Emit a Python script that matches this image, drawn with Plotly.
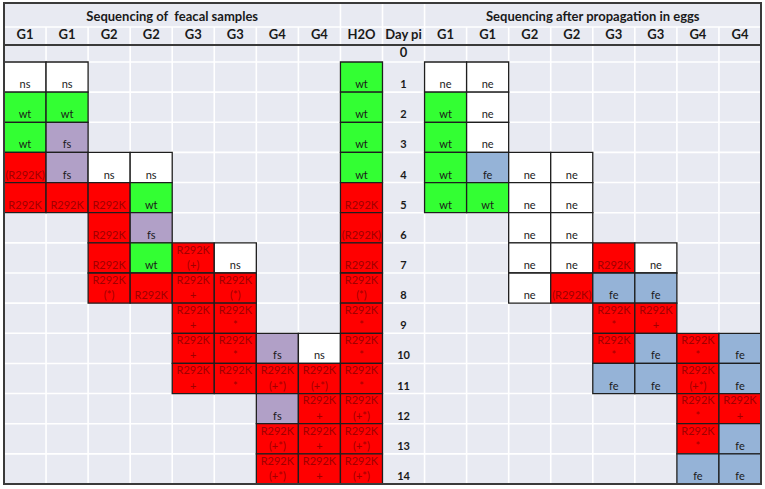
import plotly.graph_objects as go

E = ""
# ---- data ----
day_labels = ["0", "1", "2", "3", "4", "5", "6", "7", "8", "9", "10", "11", "12", "13", "14"]
fecal_headers = ["G1", "G1", "G2", "G2", "G3", "G3", "G4", "G4", "H2O"]
egg_headers = ["G1", "G1", "G2", "G2", "G3", "G3", "G4", "G4"]
fecal_title = "Sequencing of  feacal samples"
egg_title = "Sequencing after propagation in eggs"
day_header = "Day pi"

fecal_g1a = [E, "ns", "wt", "wt", "(R292K)", "R292K", E, E, E, E, E, E, E, E, E]
fecal_g1b = [E, "ns", "wt", "fs", "fs", "R292K", E, E, E, E, E, E, E, E, E]
fecal_g2a = [E, E, E, E, "ns", "R292K", "R292K", "R292K", "R292K|(*)", E, E, E, E, E, E]
fecal_g2b = [E, E, E, E, "ns", "wt", "fs", "wt", "R292K", E, E, E, E, E, E]
fecal_g3a = [E, E, E, E, E, E, E, "R292K|(+)", "R292K|+", "R292K|+", "R292K|+", "R292K|+", E, E, E]
fecal_g3b = [E, E, E, E, E, E, E, "ns", "R292K|(*)", "R292K|*", "R292K|*", "R292K|*", E, E, E]
fecal_g4a = [E, E, E, E, E, E, E, E, E, E, "fs", "R292K|(+*)", "fs", "R292K|(+*)", "R292K|(+*)"]
fecal_g4b = [E, E, E, E, E, E, E, E, E, E, "ns", "R292K|(+*)", "R292K|+", "R292K|+", "R292K|+"]
fecal_h2o = [E, "wt", "wt", "wt", "wt", "R292K", "(R292K)", "R292K", "R292K|(*)", "R292K|*",
             "R292K|*", "R292K|*", "R292K|(+*)", "R292K|(+*)", "R292K|(+*)"]

egg_g1a = [E, "ne", "wt", "wt", "wt", "wt", E, E, E, E, E, E, E, E, E]
egg_g1b = [E, "ne", "ne", "ne", "fe", "wt", E, E, E, E, E, E, E, E, E]
egg_g2a = [E, E, E, E, "ne", "ne", "ne", "ne", "ne", E, E, E, E, E, E]
egg_g2b = [E, E, E, E, "ne", "ne", "ne", "ne", "(R292K)", E, E, E, E, E, E]
egg_g3a = [E, E, E, E, E, E, E, "R292K", "fe", "R292K|*", "R292K|*", "fe", E, E, E]
egg_g3b = [E, E, E, E, E, E, E, "ne", "fe", "R292K|+", "fe", "fe", E, E, E]
egg_g4a = [E, E, E, E, E, E, E, E, E, E, "R292K|*", "R292K|(+*)", "R292K|*", "R292K|*", "fe"]
egg_g4b = [E, E, E, E, E, E, E, E, E, E, "fe", "fe", "R292K|+", "fe", "fe"]

fecal_columns = [fecal_g1a, fecal_g1b, fecal_g2a, fecal_g2b, fecal_g3a, fecal_g3b,
                 fecal_g4a, fecal_g4b, fecal_h2o]
egg_columns = [egg_g1a, egg_g1b, egg_g2a, egg_g2b, egg_g3a, egg_g3b, egg_g4a, egg_g4b]

# ---- styling ----
BG = "#E8EAF2"
GRID = "#FFFFFF"
BORDER = "#1E1E1E"
FONT = "Lato"
COLORS = {"ns": "#FFFFFF", "ne": "#FFFFFF", "wt": "#33FF33", "fs": "#B1A0C7",
          "fe": "#95B3D7", "R292K": "#FF0000"}
TXT_DARK = "#1A1A1A"
TXT_RED = "#A00000"

# geometry (data units; rows 1..14 have unit height)
ROW0_TOP = -0.564
HEADER_TOP = -1.161
TITLE_TOP = -1.957
NCOL = 18
DAY_COL = 9
NDAY = len(day_labels) - 1
TOP_LINE = 0.27      # offset of first text line below cell top
BOT_LINE = 0.225     # offset of last text line above cell bottom


def cell_color(lbl):
    key = "R292K" if "R292K" in lbl else lbl
    return COLORS[key]


def row_top(d):
    return d - 1 if d >= 1 else ROW0_TOP


def row_bot(d):
    return d if d >= 1 else 0


# map table columns -> x positions
table = []
for i, col in enumerate(fecal_columns):
    table.append((i, col))
for i, col in enumerate(egg_columns):
    table.append((DAY_COL + 1 + i, col))

fig = go.Figure()
shapes = []

# white grid lines
for c in range(1, NCOL):
    shapes.append(dict(type="line", xref="x", yref="y", x0=c, x1=c, y0=HEADER_TOP, y1=NDAY,
                       line=dict(color=GRID, width=1.6), layer="below"))
for c in (8, 9, 10):
    shapes.append(dict(type="line", xref="x", yref="y", x0=c, x1=c, y0=TITLE_TOP, y1=HEADER_TOP,
                       line=dict(color=GRID, width=1.6), layer="below"))
for yb in [HEADER_TOP, 0] + list(range(1, NDAY)):
    shapes.append(dict(type="line", xref="x", yref="y", x0=0, x1=NCOL, y0=yb, y1=yb,
                       line=dict(color=GRID, width=1.6), layer="below"))

# cells
tx, ty, tt, tc = [], [], [], []
for xc, col in table:
    for d, lbl in enumerate(col):
        if not lbl:
            continue
        shapes.append(dict(type="rect", xref="x", yref="y", x0=xc, x1=xc + 1,
                           y0=row_top(d), y1=row_bot(d), fillcolor=cell_color(lbl),
                           line=dict(color=BORDER, width=1.3), layer="below"))
        color = TXT_RED if "R292K" in lbl else TXT_DARK
        parts = lbl.split("|")
        if len(parts) == 2:
            tx.append(xc + 0.5); ty.append(row_top(d) + TOP_LINE); tt.append(parts[0]); tc.append(color)
        tx.append(xc + 0.5); ty.append(row_bot(d) - BOT_LINE); tt.append(parts[-1]); tc.append(color)

# day labels
for d, lbl in enumerate(day_labels):
    if d == 0:
        continue
    tx.append(DAY_COL + 0.5)
    ty.append(row_bot(d) - BOT_LINE)
    tt.append("<b>" + lbl + "</b>")
    tc.append(TXT_DARK)

# header row / thick line / outer border
shapes.append(dict(type="line", xref="paper", yref="y", x0=0, x1=1, y0=ROW0_TOP, y1=ROW0_TOP,
                   line=dict(color="#3A3A3A", width=2), layer="above"))
shapes.append(dict(type="rect", xref="paper", yref="paper", x0=0, x1=1, y0=0, y1=1,
                   line=dict(color="#3A3A3A", width=2), layer="above"))

fig.add_trace(go.Scatter(x=tx, y=ty, mode="text", text=tt, textposition="middle center",
                         textfont=dict(family=FONT, size=11, color=tc),
                         hoverinfo="skip", showlegend=False, cliponaxis=False))

# column headers, title, day 0
hx, hy, ht = [], [], []
hmid = (HEADER_TOP + ROW0_TOP) / 2
for i, h in enumerate(fecal_headers):
    hx.append(i + 0.5); hy.append(hmid); ht.append("<b>" + h + "</b>")
hx.append(DAY_COL + 0.5); hy.append(hmid); ht.append("<b>" + day_header + "</b>")
for i, h in enumerate(egg_headers):
    hx.append(DAY_COL + 1 + i + 0.5); hy.append(hmid); ht.append("<b>" + h + "</b>")
tmid = (TITLE_TOP + HEADER_TOP) / 2 + 0.08
hx.append(4.0); hy.append(tmid); ht.append("<b>" + fecal_title + "</b>")
hx.append(DAY_COL + 1 + 4.0); hy.append(tmid); ht.append("<b>" + egg_title + "</b>")
hx.append(DAY_COL + 0.5); hy.append(ROW0_TOP / 2); ht.append("<b>" + day_labels[0] + "</b>")
fig.add_trace(go.Scatter(x=hx, y=hy, mode="text", text=ht, textposition="middle center",
                         textfont=dict(family=FONT, size=13, color=TXT_DARK),
                         hoverinfo="skip", showlegend=False, cliponaxis=False))

fig.update_layout(
    width=765, height=489,
    margin=dict(l=4, r=4, t=3, b=5),
    paper_bgcolor="#FFFFFF", plot_bgcolor=BG,
    shapes=shapes, showlegend=False,
    xaxis=dict(range=[0, NCOL], visible=False, fixedrange=True),
    yaxis=dict(range=[NDAY, TITLE_TOP], visible=False, fixedrange=True),
)
fig.write_html("out.html", config={"displayModeBar": False},
               post_script="document.body.style.margin='0px';")
